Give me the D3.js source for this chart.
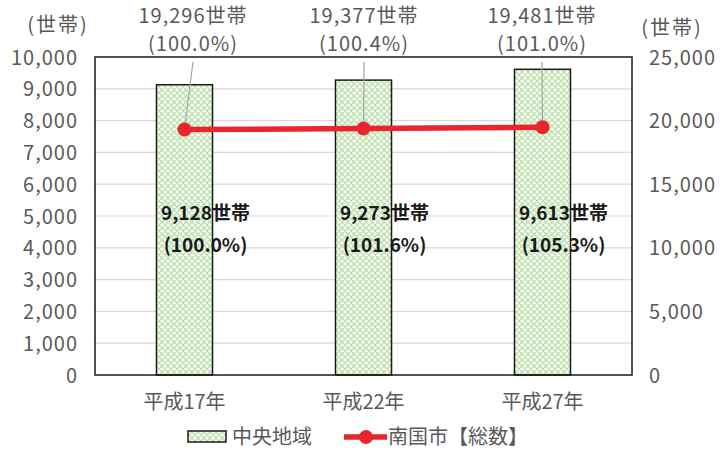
<!DOCTYPE html>
<html>
<head>
<meta charset="utf-8">
<script src="https://cdn.jsdelivr.net/npm/d3@7"></script>
<style>
  html, body { margin: 0; padding: 0; background: #fff; }
  svg { display: block; }
  text { font-family: "Noto Sans CJK JP", "Noto Sans", sans-serif; }
</style>
</head>
<body>
<svg id="chart" width="728" height="452"></svg>
<script>
// Household counts by survey year
const years = ["平成17年", "平成22年", "平成27年"];
const centralArea = [9128, 9273, 9613];          // 中央地域 (bars, left axis)
const centralPct = ["100.0%", "101.6%", "105.3%"];
const cityTotal = [19296, 19377, 19481];          // 南国市【総数】 (line, right axis)
const cityPct = ["100.0%", "100.4%", "101.0%"];
const leftTicks = [0, 1000, 2000, 3000, 4000, 5000, 6000, 7000, 8000, 9000, 10000];
const rightTicks = [0, 5000, 10000, 15000, 20000, 25000];
const seriesNames = ["中央地域", "南国市【総数】"];
const unitLabel = "(世帯)";

const svg = d3.select("#chart");
const plot = { left: 95, right: 632, top: 57, bottom: 375 };
const grey = "#595959";
const red = "#e8262e";
const fmt = d3.format(",");

const x = d3.scaleBand().domain(years).range([plot.left, plot.right]).padding(0);
const yL = d3.scaleLinear().domain([0, 10000]).range([plot.bottom, plot.top]);
const yR = d3.scaleLinear().domain([0, 25000]).range([plot.bottom, plot.top]);
const barW = x.bandwidth() * 0.313;
const cx = d => x(d) + x.bandwidth() / 2;

// lattice fill for the bars
const defs = svg.append("defs");
const pat = defs.append("pattern")
  .attr("id", "lattice").attr("patternUnits", "userSpaceOnUse")
  .attr("width", 6).attr("height", 6);
pat.append("rect").attr("width", 6).attr("height", 6).attr("fill", "#f6fbf3");
pat.append("path").attr("d", "M0,0L6,6M6,0L0,6M-1,5L1,7M5,-1L7,1")
  .attr("stroke", "#b4dba0").attr("stroke-width", 1.1).attr("fill", "none");

// horizontal gridlines
svg.append("g").selectAll("line")
  .data(leftTicks.filter(t => t > 0 && t < 10000))
  .join("line")
  .attr("x1", plot.left).attr("x2", plot.right)
  .attr("y1", d => yL(d)).attr("y2", d => yL(d))
  .attr("stroke", "#d9d9d9").attr("stroke-width", 1.2);

// left axis
const axL = svg.append("g").attr("transform", `translate(${plot.left - 17},0)`)
  .call(d3.axisLeft(yL).tickValues(leftTicks).tickFormat(fmt).tickSize(0).tickPadding(0));
axL.select(".domain").remove();
axL.selectAll("text").attr("fill", grey).attr("font-size", 20).attr("dy", "0.35em")
  .attr("letter-spacing", 1);

// right axis
const axR = svg.append("g").attr("transform", `translate(${plot.right + 17},0)`)
  .call(d3.axisRight(yR).tickValues(rightTicks).tickFormat(fmt).tickSize(0).tickPadding(0));
axR.select(".domain").remove();
axR.selectAll("text").attr("fill", grey).attr("font-size", 20).attr("dy", "0.35em")
  .attr("letter-spacing", 1);

// unit labels
svg.append("text").attr("x", 58).attr("y", 25).attr("dy", "0.35em")
  .attr("text-anchor", "middle").attr("fill", grey).attr("font-size", 20)
  .attr("letter-spacing", 2).text(unitLabel);
svg.append("text").attr("x", 672).attr("y", 28).attr("dy", "0.35em")
  .attr("text-anchor", "middle").attr("fill", grey).attr("font-size", 20)
  .attr("letter-spacing", 2).text(unitLabel);

// x axis labels
const axB = svg.append("g").attr("transform", `translate(0,${plot.bottom + 27})`)
  .call(d3.axisBottom(x).tickSize(0).tickPadding(0));
axB.select(".domain").remove();
axB.selectAll("text").attr("fill", grey).attr("font-size", 20).attr("dy", "0.35em");

// bars
svg.append("g").selectAll("rect")
  .data(years)
  .join("rect")
  .attr("x", d => cx(d) - barW / 2)
  .attr("width", barW)
  .attr("y", (d, i) => yL(centralArea[i]))
  .attr("height", (d, i) => yL(0) - yL(centralArea[i]))
  .attr("fill", "url(#lattice)")
  .attr("stroke", "#1a1a1a").attr("stroke-width", 1.5);

// plot frame
svg.append("rect")
  .attr("x", plot.left).attr("y", plot.top)
  .attr("width", plot.right - plot.left).attr("height", plot.bottom - plot.top)
  .attr("fill", "none").attr("stroke", "#1a1a1a").attr("stroke-width", 1.5);

// leader lines from the total labels to the points
const labelX = [193, 364, 542];
svg.append("g").selectAll("line")
  .data(years)
  .join("line")
  .attr("x1", (d, i) => labelX[i]).attr("y1", 62)
  .attr("x2", d => cx(d)).attr("y2", (d, i) => yR(cityTotal[i]))
  .attr("stroke", "#a6a6a6").attr("stroke-width", 1.2);

// total line and markers
svg.append("path")
  .datum(years)
  .attr("d", d3.line().x(d => cx(d)).y((d, i) => yR(cityTotal[i])))
  .attr("fill", "none").attr("stroke", red).attr("stroke-width", 5.5);
svg.append("g").selectAll("circle")
  .data(years)
  .join("circle")
  .attr("cx", d => cx(d)).attr("cy", (d, i) => yR(cityTotal[i]))
  .attr("r", 7).attr("fill", red);

// total labels above the plot
const topLbl = svg.append("g").selectAll("g").data(years).join("g");
topLbl.append("text")
  .attr("x", (d, i) => labelX[i]).attr("y", 16).attr("dy", "0.35em")
  .attr("text-anchor", "middle").attr("fill", grey).attr("font-size", 20)
  .attr("letter-spacing", 1)
  .text((d, i) => fmt(cityTotal[i]) + "世帯");
topLbl.append("text")
  .attr("x", (d, i) => labelX[i]).attr("y", 44).attr("dy", "0.35em")
  .attr("text-anchor", "middle").attr("fill", grey).attr("font-size", 20)
  .attr("letter-spacing", 1)
  .text((d, i) => "(" + cityPct[i] + ")");

// bar value labels
const barLbl = svg.append("g").selectAll("g").data(years).join("g");
barLbl.append("text")
  .attr("x", d => cx(d) + 21).attr("y", 213).attr("dy", "0.35em")
  .attr("text-anchor", "middle").attr("fill", "#1a1a1a")
  .attr("font-size", 19).attr("font-weight", "bold")
  .text((d, i) => fmt(centralArea[i]) + "世帯");
barLbl.append("text")
  .attr("x", d => cx(d) + 21).attr("y", 245).attr("dy", "0.35em")
  .attr("text-anchor", "middle").attr("fill", "#1a1a1a")
  .attr("font-size", 19).attr("font-weight", "bold")
  .text((d, i) => "(" + centralPct[i] + ")");

// legend
const lg = svg.append("g");
lg.append("rect").attr("x", 188).attr("y", 431).attr("width", 38).attr("height", 11)
  .attr("fill", "url(#lattice)").attr("stroke", "#1a1a1a").attr("stroke-width", 1.5);
lg.append("text").attr("x", 232).attr("y", 437).attr("dy", "0.35em")
  .attr("fill", grey).attr("font-size", 20).text(seriesNames[0]);
lg.append("line").attr("x1", 344).attr("x2", 387).attr("y1", 437).attr("y2", 437)
  .attr("stroke", red).attr("stroke-width", 5.5);
lg.append("circle").attr("cx", 366).attr("cy", 437).attr("r", 7).attr("fill", red);
lg.append("text").attr("x", 388).attr("y", 437).attr("dy", "0.35em")
  .attr("fill", grey).attr("font-size", 20).text(seriesNames[1]);
</script>
</body>
</html>
